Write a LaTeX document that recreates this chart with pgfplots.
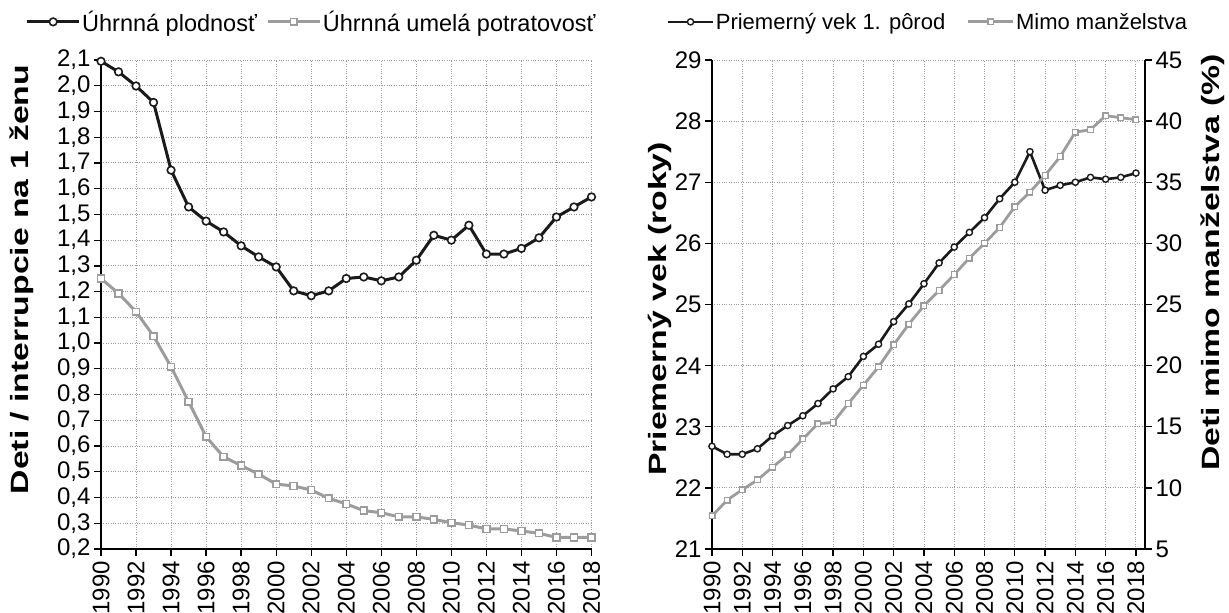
\documentclass[border=0pt]{standalone}
\usepackage{pgfplots}
\pgfplotsset{compat=1.18}
\usepackage{fontspec}
\setmainfont{Liberation Sans}
\newfontfamily\labelfont[FakeStretch=1.35]{Liberation Sans}
\definecolor{lgray}{HTML}{9C9C9C}
\definecolor{ggrid}{HTML}{9A9A9A}
\definecolor{dblack}{HTML}{1A1A1A}
\pgfplotsset{
  mystyle/.style={
    scale only axis,
    /pgf/number format/assume math mode=true,
    tick align=outside,
    major tick length=7pt,
    tick style={line width=1.3pt, black},
    axis line style={line width=1.8pt, black, -},
    grid=major,
    major grid style={dotted, ggrid, line width=0.9pt},
    ticklabel style={font=\fontsize{24}{24}\selectfont},
    label style={font=\labelfont\bfseries\fontsize{25}{25}\selectfont},
    xtick={1990,1992,...,2018},
    xticklabel shift=1.5pt,
    x tick label style={rotate=90, anchor=east, /pgf/number format/1000 sep={}},
    legend style={draw=none, fill=none, legend columns=2, inner sep=0pt, anchor=west, nodes={inner sep=1.5pt}},
  }
}
\begin{document}
\begin{tikzpicture}
\useasboundingbox (0pt,0pt) rectangle (1229pt,613pt);
% ---------------- left chart
\begin{axis}[mystyle, at={(101pt,64pt)}, anchor=south west,
  width=490.5pt, height=489pt,
  xmin=1990, xmax=2018, ymin=0.2, ymax=2.1,
  ytick={0.2,0.3,0.4,0.5,0.6,0.7,0.8,0.9,1.0,1.1,1.2,1.3,1.4,1.5,1.6,1.7,1.8,1.9,2.0,2.1},
  yticklabel style={/pgf/number format/.cd, fixed, fixed zerofill, precision=1, use comma},
  axis x line*=bottom, axis y line*=left,
  ylabel={Deti / interrupcie na 1 ženu},
  ylabel style={at={(axis description cs:-0.161,0.551)}, anchor=center},
  legend style={at={(axis description cs:-0.154,1.078)}, font=\fontsize{23.5}{23.5}\selectfont, /tikz/every even column/.append style={column sep=8pt}},
  legend image code/.code={\draw[mark repeat=2, mark phase=2] plot coordinates {(0pt,0pt) (26pt,0pt) (52pt,0pt)};},
]
\addplot[dblack, line width=3pt, mark=*, mark size=3.8pt, mark options={fill=white, draw=dblack, line width=1.6pt}] coordinates {
(1990,2.095) (1991,2.054) (1992,1.999) (1993,1.935) (1994,1.672) (1995,1.529) (1996,1.474) (1997,1.432)
(1998,1.378) (1999,1.335) (2000,1.296) (2001,1.203) (2002,1.184) (2003,1.203) (2004,1.251) (2005,1.257)
(2006,1.242) (2007,1.257) (2008,1.322) (2009,1.419) (2010,1.400) (2011,1.458) (2012,1.346) (2013,1.346)
(2014,1.368) (2015,1.409) (2016,1.490) (2017,1.529) (2018,1.568)};
\addlegendentry{Úhrnná plodnosť}
\addplot[lgray, line width=3pt, mark=square*, mark size=3.4pt, mark options={fill=white, draw=lgray, line width=1.6pt}] coordinates {
(1990,1.251) (1991,1.193) (1992,1.122) (1993,1.027) (1994,0.908) (1995,0.772) (1996,0.636) (1997,0.558)
(1998,0.524) (1999,0.491) (2000,0.452) (2001,0.445) (2002,0.429) (2003,0.397) (2004,0.375) (2005,0.349)
(2006,0.341) (2007,0.325) (2008,0.325) (2009,0.315) (2010,0.302) (2011,0.293) (2012,0.278) (2013,0.278)
(2014,0.270) (2015,0.261) (2016,0.245) (2017,0.245) (2018,0.245)};
\addlegendentry{Úhrnná umelá potratovosť}
\end{axis}
% ---------------- right chart, left axis
\begin{axis}[mystyle, at={(712pt,64pt)}, anchor=south west,
  width=433pt, height=489pt,
  xmin=1990, xmax=2018.6, ymin=21, ymax=29,
  ytick={21,22,...,29},
  axis x line*=bottom, axis y line*=left,
  ylabel={Priemerný vek (roky)},
  ylabel style={at={(axis description cs:-0.121,0.491)}, anchor=center},
]
\addplot[dblack, line width=2.6pt, mark=*, mark size=3.1pt, mark options={fill=white, draw=dblack, line width=1.4pt}] coordinates {
(1990,22.68) (1991,22.55) (1992,22.55) (1993,22.64) (1994,22.85) (1995,23.02) (1996,23.18) (1997,23.38)
(1998,23.62) (1999,23.82) (2000,24.15) (2001,24.35) (2002,24.72) (2003,25.01) (2004,25.34) (2005,25.68)
(2006,25.94) (2007,26.18) (2008,26.42) (2009,26.73) (2010,27.00) (2011,27.50) (2012,26.87) (2013,26.95)
(2014,27.00) (2015,27.08) (2016,27.05) (2017,27.08) (2018,27.15)};
\end{axis}
% ---------------- right chart, right axis
\begin{axis}[mystyle, at={(712pt,64pt)}, anchor=south west,
  width=433pt, height=489pt,
  xmin=1990, xmax=2018.6, ymin=5, ymax=45,
  ytick={5,10,...,45}, grid=none,
  axis x line=none, axis y line*=right,
  ylabel={Deti mimo manželstva (\%)},
  ylabel style={at={(axis description cs:1.157,0.586)}, anchor=center},
  legend style={at={(axis description cs:-0.105,1.078)}, font=\fontsize{22}{22}\selectfont, /tikz/every even column/.append style={column sep=20pt}},
  legend image code/.code={\draw[mark repeat=2, mark phase=2] plot coordinates {(0pt,0pt) (22.5pt,0pt) (45pt,0pt)};},
]
\addlegendimage{dblack, line width=2.6pt, mark=*, mark size=3.1pt, mark options={fill=white, draw=dblack, line width=1.4pt}}
\addlegendentry{Priemerný vek 1. pôrod}
\addplot[lgray, line width=2.8pt, mark=square*, mark size=2.8pt, mark options={fill=white, draw=lgray, line width=1.4pt}] coordinates {
(1990,7.70) (1991,9.00) (1992,9.85) (1993,10.65) (1994,11.70) (1995,12.70) (1996,14.00) (1997,15.25)
(1998,15.35) (1999,16.90) (2000,18.40) (2001,19.90) (2002,21.70) (2003,23.40) (2004,24.90) (2005,26.15)
(2006,27.45) (2007,28.80) (2008,30.00) (2009,31.30) (2010,33.00) (2011,34.20) (2012,35.56) (2013,37.10)
(2014,39.10) (2015,39.30) (2016,40.45) (2017,40.28) (2018,40.12)};
\addlegendentry{Mimo manželstva}
\end{axis}
\end{tikzpicture}
\end{document}
